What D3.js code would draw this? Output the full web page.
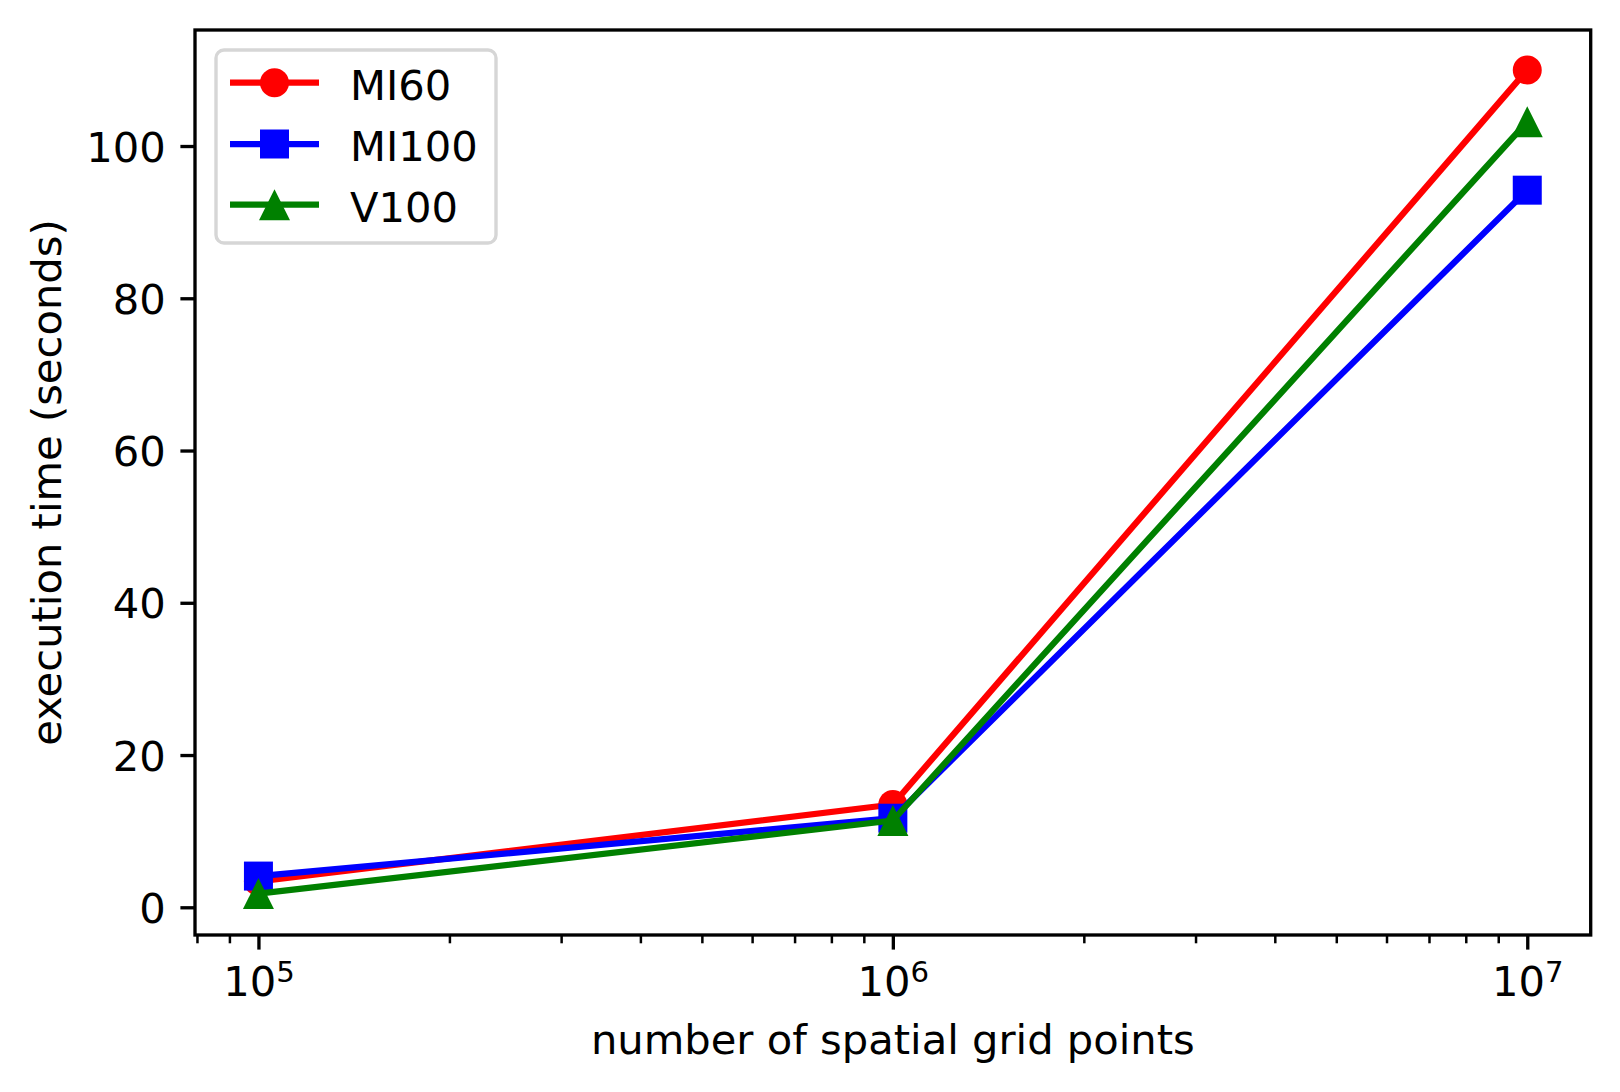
<!DOCTYPE html>
<head>
    <script src="https://d3js.org/d3.v7.min.js"></script>
    <style>
      body { margin: 0; background: #fff; }
      text { font-family: "DejaVu Sans", sans-serif; }
    </style>
</head>

<body>
    <div id="chart"></div>
</body>

<script>

  // data
  const gridPoints = [1e5, 1e6, 1e7];
  const mi60  = [3.4, 13.5, 110.0];
  const mi100 = [4.1, 11.7, 94.2];
  const v100  = [1.8, 11.4, 103.2];
  const seriesNames = ["MI60", "MI100", "V100"];
  const yTicks = [0, 20, 40, 60, 80, 100];
  const xTicks = [1e5, 1e6, 1e7];

  const W = 1620, H = 1092;
  const plotLeft = 195, plotRight = 1590.7, plotTop = 30, plotBottom = 935;
  const fs = 41.67;          // 10pt at 300 dpi
  const lw = 6.25;           // 1.5pt line
  const tickLen = 14.6, tickPad = 14.6;

  const svg = d3.select("#chart").append("svg")
    .attr("width", W)
    .attr("height", H);

  const x = d3.scaleLog()
    .domain([Math.pow(10, 4.9), Math.pow(10, 7.1)])
    .range([plotLeft, plotRight]);

  const y = d3.scaleLinear()
    .domain([-3.64, 115.24])
    .range([plotBottom, plotTop]);

  // custom matplotlib-like '^' marker (width = height)
  const triangleUp = {
    draw(ctx, size) {
      const h = Math.sqrt(size) / 2;
      ctx.moveTo(0, -h);
      ctx.lineTo(h, h);
      ctx.lineTo(-h, h);
      ctx.closePath();
    }
  };

  const series = [
    {name: seriesNames[0], values: mi60,  color: "#ff0000", symbol: d3.symbolCircle, size: Math.PI * 14.5 * 14.5},
    {name: seriesNames[1], values: mi100, color: "#0000ff", symbol: d3.symbolSquare, size: 29 * 29},
    {name: seriesNames[2], values: v100,  color: "#008000", symbol: triangleUp, size: 31 * 31}
  ];

  // X axis (major)
  const xAxisG = svg.append("g")
    .attr("transform", `translate(0, ${plotBottom})`)
    .call(d3.axisBottom(x).tickValues(xTicks).tickSize(tickLen).tickPadding(tickPad).tickFormat(""));
  xAxisG.select(".domain").remove();
  xAxisG.selectAll("line").attr("stroke", "#000").attr("stroke-width", 3.33);
  xAxisG.selectAll("text")
    .attr("dy", null)
    .attr("y", 61)
    .attr("fill", "#000")
    .style("font-size", fs + "px")
    .each(function(d) {
      const t = d3.select(this);
      t.append("tspan").text("10");
      t.append("tspan")
        .attr("dy", -14)
        .style("font-size", (fs * 0.7) + "px")
        .text(Math.round(Math.log10(d)));
    });

  // X axis minor ticks
  const minor = [];
  for (let e = 4; e <= 7; e++) {
    for (let m = 2; m <= 9; m++) {
      const v = m * Math.pow(10, e);
      if (v > x.domain()[0] && v < x.domain()[1]) minor.push(v);
    }
  }
  const xMinorG = svg.append("g")
    .attr("transform", `translate(0, ${plotBottom})`)
    .call(d3.axisBottom(x).tickValues(minor).tickSize(8.3).tickFormat(""));
  xMinorG.select(".domain").remove();
  xMinorG.selectAll("line").attr("stroke", "#000").attr("stroke-width", 2.5);

  // Y axis
  const yAxisG = svg.append("g")
    .attr("transform", `translate(${plotLeft}, 0)`)
    .call(d3.axisLeft(y).tickValues(yTicks).tickSize(tickLen).tickPadding(tickPad));
  yAxisG.select(".domain").remove();
  yAxisG.selectAll("line").attr("stroke", "#000").attr("stroke-width", 3.33);
  yAxisG.selectAll("text")
    .attr("dy", "0.36em")
    .attr("fill", "#000")
    .style("font-size", fs + "px");

  // Lines and markers
  const line = d3.line()
    .x((d, i) => x(gridPoints[i]))
    .y(d => y(d));

  series.forEach(s => {
    const g = svg.append("g");
    g.append("path")
      .datum(s.values)
      .attr("d", line)
      .attr("fill", "none")
      .attr("stroke", s.color)
      .attr("stroke-width", lw)
      .attr("stroke-linejoin", "round");
    g.selectAll("path.marker")
      .data(s.values)
      .join("path")
      .attr("class", "marker")
      .attr("d", d3.symbol().type(s.symbol).size(s.size))
      .attr("transform", (d, i) => `translate(${x(gridPoints[i])}, ${y(d)})`)
      .attr("fill", s.color);
  });

  // Frame
  svg.append("rect")
    .attr("x", plotLeft)
    .attr("y", plotTop)
    .attr("width", plotRight - plotLeft)
    .attr("height", plotBottom - plotTop)
    .attr("fill", "none")
    .attr("stroke", "#000")
    .attr("stroke-width", 3.33);

  // Legend
  const legend = svg.append("g");
  legend.append("rect")
    .attr("x", 216)
    .attr("y", 50)
    .attr("width", 280)
    .attr("height", 193)
    .attr("rx", 8)
    .attr("fill", "#fff")
    .attr("fill-opacity", 0.8)
    .attr("stroke", "#d6d6d6")
    .attr("stroke-width", 3.4);

  const rowY = [82.7, 144, 204.7];
  series.forEach((s, i) => {
    const row = legend.append("g").attr("transform", `translate(0, ${rowY[i]})`);
    row.append("line")
      .attr("x1", 230).attr("x2", 319)
      .attr("y1", 0).attr("y2", 0)
      .attr("stroke", s.color)
      .attr("stroke-width", lw);
    row.append("path")
      .attr("d", d3.symbol().type(s.symbol).size(s.size))
      .attr("transform", "translate(274.5, 0)")
      .attr("fill", s.color);
    row.append("text")
      .attr("x", 350)
      .attr("y", 2)
      .attr("dy", "0.36em")
      .style("font-size", fs + "px")
      .text(s.name);
  });

  // Axis titles
  svg.append("text")
    .attr("x", (plotLeft + plotRight) / 2)
    .attr("y", 1054)
    .attr("text-anchor", "middle")
    .style("font-size", fs + "px")
    .text("number of spatial grid points");

  svg.append("text")
    .attr("transform", `translate(61, ${(plotTop + plotBottom) / 2}) rotate(-90)`)
    .attr("text-anchor", "middle")
    .style("font-size", fs + "px")
    .text("execution time (seconds)");

</script>
